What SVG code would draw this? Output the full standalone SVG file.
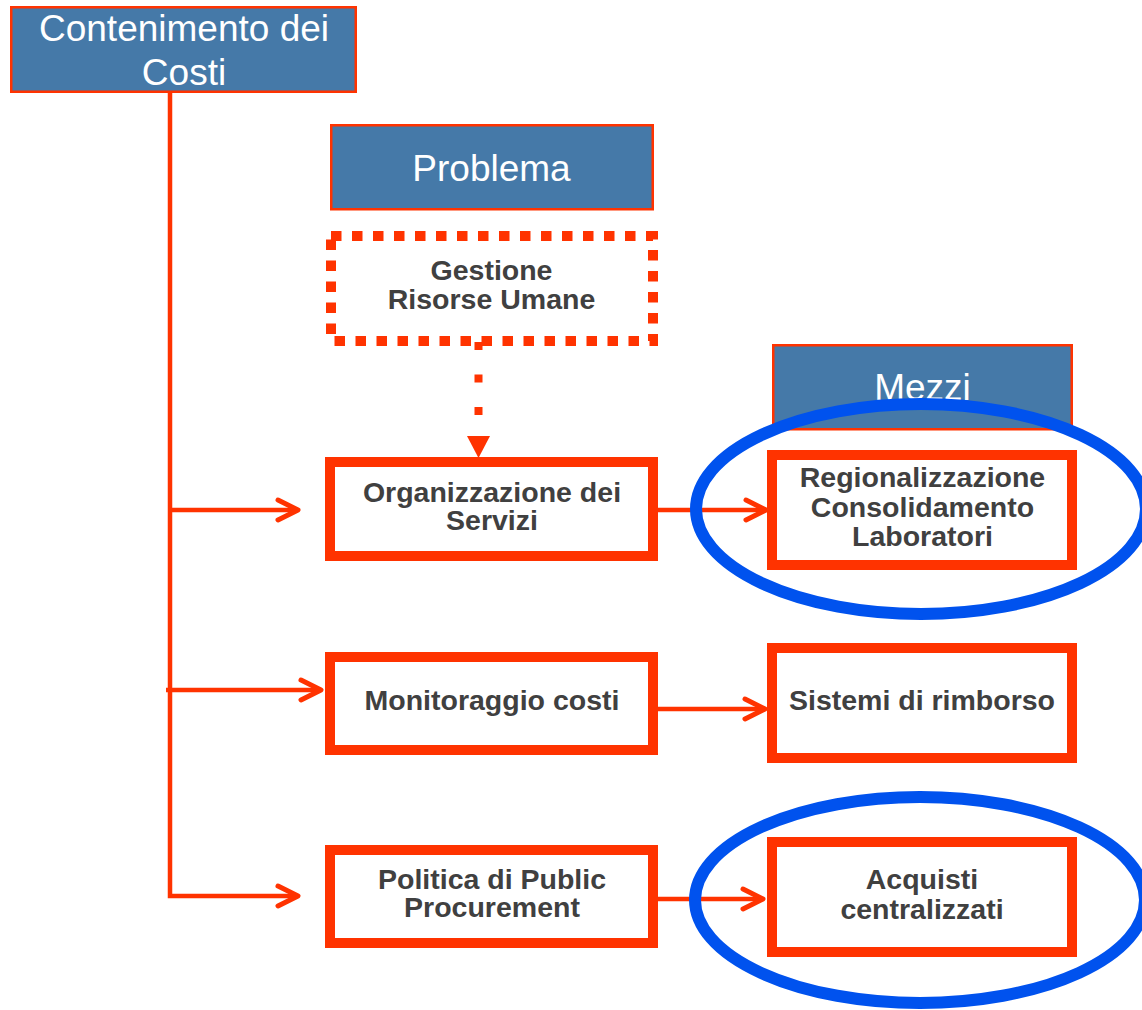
<svg xmlns="http://www.w3.org/2000/svg" width="1142" height="1010" viewBox="0 0 1142 1010">
<style>
.hdr{fill:#4579A8;stroke:#FF3300;stroke-width:2.5}
.hdrt{font-family:"Liberation Sans",Arial,sans-serif;font-size:37px;fill:#FFFFFF;text-anchor:middle}
.box{fill:#FFFFFF;stroke:#FF3300;stroke-width:10}
.dbox{fill:#FFFFFF;stroke:#FF3300;stroke-width:10;stroke-dasharray:10.5 10.5}
.bt{font-family:"Liberation Sans",Arial,sans-serif;font-size:28.5px;font-weight:bold;fill:#404040;text-anchor:middle}
.con{fill:none;stroke:#FF3300;stroke-width:4.5}
.ell{fill:none;stroke:#0052EE;stroke-width:12}
</style>
<defs>
<marker id="open" markerUnits="userSpaceOnUse" markerWidth="30" markerHeight="30" viewBox="-25 -15 30 30" refX="0" refY="0" orient="auto" overflow="visible">
<path d="M-20,-10 L0,0 L-20,10" fill="none" stroke="#FF3300" stroke-width="5" stroke-linecap="round" stroke-linejoin="round"/>
</marker>
</defs>
<rect width="1142" height="1010" fill="#FFFFFF"/>
<g id="contenimento">
<rect class="hdr" x="11.25" y="7.25" width="344.5" height="84.5"/>
<text class="hdrt" x="184" y="41">Contenimento dei</text>
<text class="hdrt" x="184" y="85">Costi</text>
</g>
<g id="problema">
<rect class="hdr" x="331.25" y="125.25" width="321.5" height="84"/>
<text class="hdrt" x="491.5" y="181">Problema</text>
</g>
<g id="mezzi">
<rect class="hdr" x="773.25" y="345.25" width="298.5" height="84"/>
<text class="hdrt" x="922.5" y="400">Mezzi</text>
</g>
<g id="connectors">
<path class="con" d="M170,93 V896 H298" stroke-width="5" marker-end="url(#open)"/>
<path class="con" d="M170,510 H298" marker-end="url(#open)"/>
<path class="con" d="M166,690 H321" marker-end="url(#open)"/>
<path class="con" d="M658,510 H766" marker-end="url(#open)"/>
<path class="con" d="M658,709 H765" marker-end="url(#open)"/>
<path class="con" d="M658,899 H763" marker-end="url(#open)"/>
<path d="M478.5,342 V436" fill="none" stroke="#FF3300" stroke-width="8" stroke-dasharray="8 24.5"/>
<polygon points="467,436 490,436 478.5,458" fill="#FF3300"/>
</g>
<g id="gestione">
<rect class="dbox" x="331" y="236" width="322" height="105"/>
<text class="bt" x="491.5" y="280">Gestione</text>
<text class="bt" x="491.5" y="309">Risorse Umane</text>
</g>
<g id="organizzazione">
<rect class="box" x="330" y="462" width="323" height="94"/>
<text class="bt" x="492" y="502">Organizzazione dei</text>
<text class="bt" x="492" y="530">Servizi</text>
</g>
<g id="monitoraggio">
<rect class="box" x="330" y="657" width="323" height="93"/>
<text class="bt" x="492" y="710">Monitoraggio costi</text>
</g>
<g id="politica">
<rect class="box" x="330" y="850" width="323" height="93"/>
<text class="bt" x="492" y="889">Politica di Public</text>
<text class="bt" x="492" y="917">Procurement</text>
</g>
<g id="regionalizzazione">
<rect class="box" x="772" y="455" width="300" height="110"/>
<text class="bt" x="922.5" y="487">Regionalizzazione</text>
<text class="bt" x="922.5" y="517">Consolidamento</text>
<text class="bt" x="922.5" y="546">Laboratori</text>
</g>
<g id="sistemi">
<rect class="box" x="772" y="648" width="300" height="110"/>
<text class="bt" x="922" y="710">Sistemi di rimborso</text>
</g>
<g id="acquisti">
<rect class="box" x="772" y="842" width="300" height="110"/>
<text class="bt" x="922" y="889">Acquisti</text>
<text class="bt" x="922" y="919">centralizzati</text>
</g>
<g id="ellipse1">
<ellipse class="ell" cx="921" cy="509" rx="225" ry="105"/>
</g>
<g id="ellipse2">
<ellipse class="ell" cx="920" cy="900" rx="225" ry="103"/>
</g>
</svg>
